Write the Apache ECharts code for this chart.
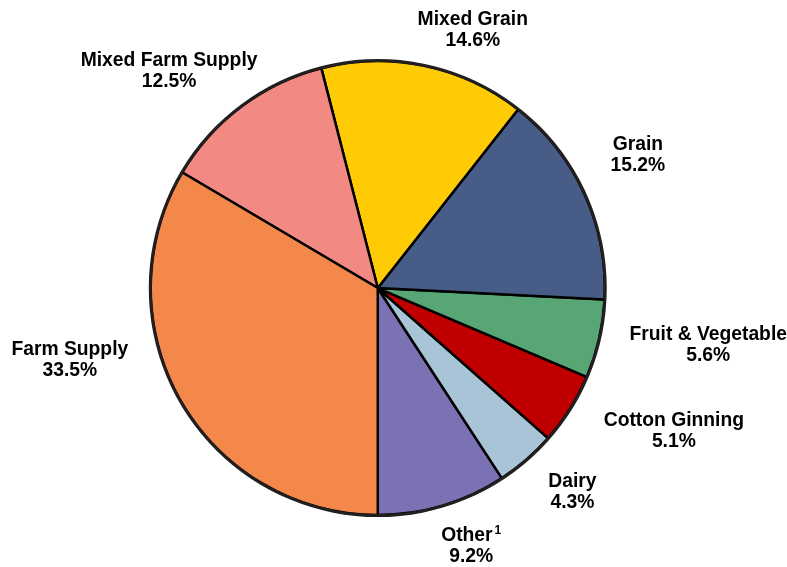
<!DOCTYPE html>
<html><head><meta charset="utf-8">
<script src="https://cdn.jsdelivr.net/npm/echarts@6/dist/echarts.min.js"></script>
<style>html,body{margin:0;padding:0;background:#fff}#c{width:787px;height:567px}</style>
</head><body><div id="c"></div>
<script>
const categories = ['Other', 'Dairy', 'Cotton Ginning', 'Fruit & Vegetable', 'Grain', 'Mixed Grain', 'Mixed Farm Supply', 'Farm Supply'];
const values = [9.2, 4.3, 5.1, 5.6, 15.2, 14.6, 12.5, 33.5];
const colors = ['#7B72B3', '#A8C4D6', '#C00000', '#58A575', '#485C88', '#FFCB05', '#F28983', '#F4884A'];
// small label nudges (px) relative to ECharts' default outside label placement
const labelNudge = [[-12, 21], [4, 17], [12, 11], [6, 2], [3, -31], [-16, -16], [33, -19], [-30, -50]];

const chart = echarts.init(document.getElementById('c'));
const data = categories.map((c, i) => ({ name: c, value: values[i], itemStyle: { color: colors[i] } }));
const FONT = 'Liberation Sans, Arial, sans-serif';
chart.setOption({
  animation: false,
  series: [{
    type: 'pie',
    center: ['48%', '50.8%'],
    radius: [0, 227],
    startAngle: 270,
    clockwise: false,
    data: data,
    itemStyle: { borderColor: '#000', borderWidth: 2.5 },
    label: {
      show: true,
      position: 'outside',
      overflow: 'none',
      fontFamily: FONT,
      fontWeight: 'bold',
      fontSize: 19.3,
      color: '#000',
      lineHeight: 21,
      formatter: p => (p.name === 'Other' ? 'Other{sup|1}' : p.name) + '\n' + p.value.toFixed(1) + '%',
      rich: { sup: { fontSize: 12, fontWeight: 'bold', fontFamily: FONT, color: '#000', verticalAlign: 'top', lineHeight: 12, padding: [0, 0, 6, 2] } }
    },
    labelLine: { show: false, length: 20, length2: 0 },
    labelLayout: p => ({
      x: p.labelRect.x + p.labelRect.width / 2 + labelNudge[p.dataIndex][0],
      y: p.labelRect.y + p.labelRect.height / 2 + labelNudge[p.dataIndex][1],
      align: 'center',
      verticalAlign: 'middle'
    })
  }, {
    type: 'pie',
    center: ['48%', '50.8%'],
    radius: [226, 229],
    silent: true,
    label: { show: false },
    labelLine: { show: false },
    itemStyle: { color: '#231F20' },
    data: [{ value: 1, name: '' }]
  }]
});
</script></body></html>
